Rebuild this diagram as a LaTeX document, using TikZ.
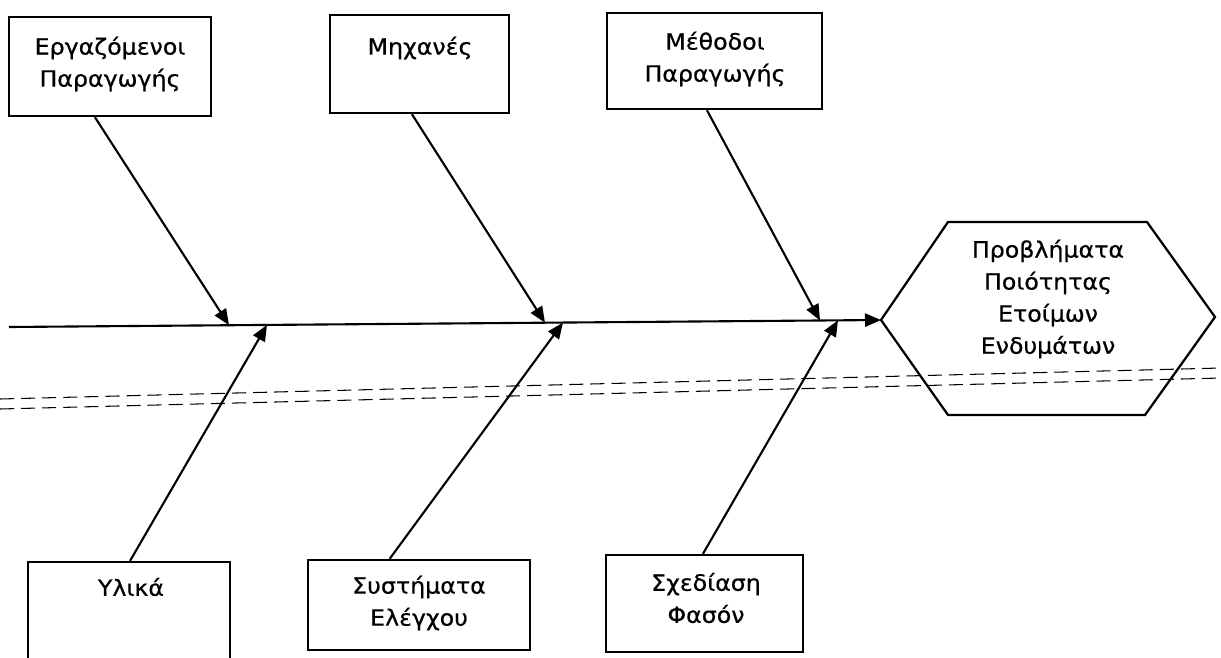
\documentclass[tikz,border=0pt]{standalone}
\usepackage{fontspec}
\setmainfont{DejaVu Sans}[FakeStretch=1.06,FakeBold=0.6]
\usetikzlibrary{arrows.meta,calc,fit}
\begin{document}
\begin{tikzpicture}[x=0.025cm,y=-0.025cm,
  box/.style={draw, line width=1.6pt, rectangle, inner sep=0pt},
  lbl/.style={font=\fontsize{15.9}{22.8}\selectfont, align=center, inner sep=0pt},
  arr/.style={line width=1.5pt, -{Triangle[length=0.4cm,width=0.33cm]}},
  dashln/.style={line width=0.75pt, dash pattern=on 10pt off 5pt},
  hexln/.style={line width=1.6pt, line join=miter}]
\useasboundingbox (0,0) rectangle (1221,657);
\clip (0,0) rectangle (1221,657);

% dashed lines
\coordinate (da1) at (0,399);
\coordinate (da2) at (1221,368);
\coordinate (db1) at (0,409);
\coordinate (db2) at (1221,378);
\draw[dashln] (da1) -- (da2);
\draw[dashln] (db1) -- (db2);

% boxes
\node[box, fit={(9,17) (211,116)}] (b1) {};
\node[lbl] (t1) at (110,64) {Εργαζόμενοι\\Παραγωγής};
\node[box, fit={(330,15) (509,113)}] (b2) {};
\node[lbl] (t2) at (420,48) {Μηχανές};
\node[box, fit={(607,13) (822,109)}] (b3) {};
\node[lbl] (t3) at (715,59) {Μέθοδοι\\Παραγωγής};
\node[box, fit={(28,562) (230,700)}] (b4) {};
\node[lbl] (t4) at (131,587) {Υλικά};
\node[box, fit={(308,560) (530,650)}] (b5) {};
\node[lbl] (t5) at (419,603) {Συστήματα\\Ελέγχου};
\node[box, fit={(606,555) (803,652)}] (b6) {};
\node[lbl] (t6) at (706,598) {Σχεδίαση\\Φασόν};

% hexagon
\coordinate (hw) at (881,320);
\coordinate (hnw) at (948,222);
\coordinate (hne) at (1147,222);
\coordinate (he) at (1215,317);
\coordinate (hse) at (1145,415);
\coordinate (hsw) at (948,415);
\draw[hexln] (hw) -- (hnw) -- (hne) -- (he) -- (hse) -- (hsw) -- cycle;
\node[lbl] (t7) at (1048,299) {Προβλήματα\\Ποιότητας\\Ετοίμων\\Ενδυμάτων};

% spine
\coordinate (tail) at (9,327);
\draw[arr] (tail) -- (hw);

% junctions on spine
\coordinate (j1) at (229,325.2);
\coordinate (j2) at (545,322.7);
\coordinate (j3) at (820,320.5);
\coordinate (j4) at (267,324.9);
\coordinate (j5) at (563,322.6);
\coordinate (j6) at (838,320.3);

% branches
\draw[arr] ($(b1.south west)!0.426!(b1.south east)$) -- (j1);
\draw[arr] ($(b2.south west)!0.458!(b2.south east)$) -- (j2);
\draw[arr] ($(b3.south west)!0.465!(b3.south east)$) -- (j3);
\draw[arr] ($(b4.north west)!0.505!(b4.north east)$) -- (j4);
\draw[arr] ($(b5.north west)!0.369!(b5.north east)$) -- (j5);
\draw[arr] ($(b6.north west)!0.492!(b6.north east)$) -- (j6);
\end{tikzpicture}
\end{document}
